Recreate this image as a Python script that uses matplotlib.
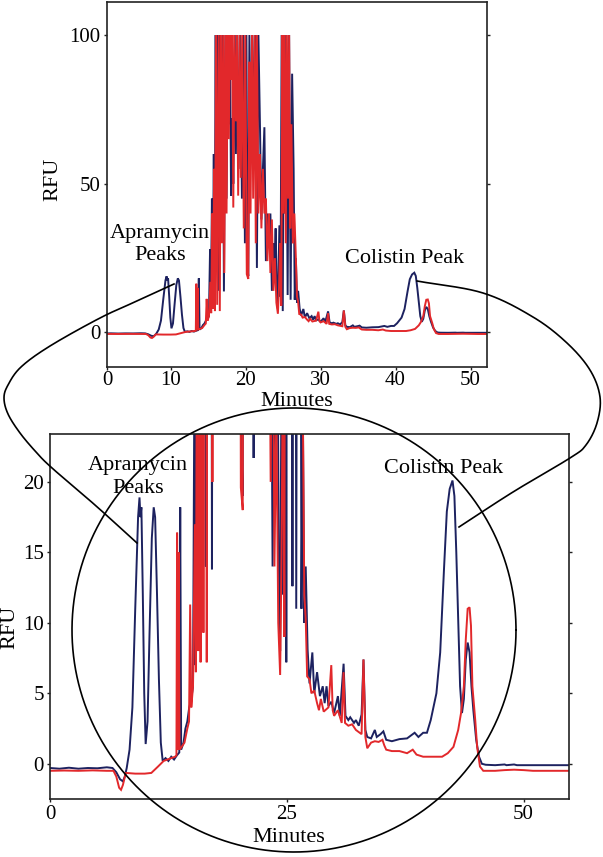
import numpy as np
import matplotlib
matplotlib.use("Agg")
import matplotlib.pyplot as plt
from matplotlib.lines import Line2D

plt.rcParams['font.family'] = ['Liberation Serif', 'DejaVu Serif']

# ---------------- data (time in minutes, RFU) ----------------
blue_t = [0.0, 1.0, 2.0, 3.0, 4.0, 5.0, 6.0, 6.6, 7.0, 7.4, 7.7, 7.9, 8.1, 8.4, 8.7, 9.0, 9.3, 9.45, 9.55,
          9.65, 9.8, 9.95, 10.1, 10.3, 10.5, 10.75, 10.95, 11.1, 11.3, 11.5, 11.7, 11.9, 12.2, 12.5, 12.8,
          13.1, 13.4, 13.65, 13.75, 13.85, 14.1, 14.3, 14.5, 14.7, 14.9, 15.1, 15.25, 15.35, 15.5, 15.6,
          15.75, 15.85, 16.0, 16.1, 16.3, 16.45, 16.6, 16.75, 16.95, 17.1, 17.3, 17.45, 17.6, 17.75, 17.9,
          18.05, 18.2, 18.35, 18.55, 18.7, 18.9, 19.05, 19.3, 19.5, 19.7, 19.9, 20.1, 20.25, 20.35, 20.5,
          20.7, 20.9, 21.1, 21.3, 21.5, 21.7, 21.9, 22.1, 22.3, 22.5, 22.7, 22.9, 23.1, 23.3, 23.5, 23.7,
          23.85, 24.0, 24.15, 24.3, 24.5, 24.65, 24.8, 24.95, 25.1, 25.25, 25.4, 25.6, 25.8, 26.0, 26.2,
          26.4, 26.55, 26.7, 26.85, 27.0, 27.2, 27.4, 27.7, 27.9, 28.2, 28.5, 28.8, 29.0, 29.2, 29.4, 29.7,
          30.0, 30.4, 30.6, 31.0, 31.2, 31.5, 31.7, 32.1, 32.3, 32.6, 32.9, 33.1, 33.3, 33.5, 33.9, 34.3,
          34.5, 34.9, 35.2, 35.5, 36.1, 36.9, 37.7, 38.5, 38.9, 39.4, 39.8, 40.2, 40.8, 41.2, 41.6, 41.9,
          42.2, 42.5, 42.7, 42.9, 43.1, 43.3, 43.5, 43.7, 43.9, 44.1, 44.3, 44.5, 44.7, 45.0, 45.3, 45.6,
          46.0, 47.0, 48.0, 48.2, 49.0, 49.3, 50.0, 52.0, 54.8]
blue_v = [-0.3, -0.35, -0.28, -0.35, -0.3, -0.32, -0.25, -0.3, -0.6, -1.1, -1.25, -0.9, -0.3, 1.0, 4.0, 11.0,
          17.5, 18.9, 17.5, 18.2, 12.0, 5.0, 1.4, 3.0, 9.0, 16.0, 18.2, 17.5, 12.0, 6.0, 1.5, 0.2, 0.4, 0.2,
          0.5, 0.3, 0.6, 0.8, 18.2, 1.0, 1.5, 2.5, 3.0, 4.0, 4.5, 5.5, 28, 7.0, 45, 8.0, 60, 10, 100, 30,
          100, 14, 100, 40, 100, 13.8, 100, 45, 100, 70, 100, 46, 72, 50, 100, 60, 100, 55, 100, 45, 100,
          30, 100, 21.5, 19, 100, 60, 100, 70, 100, 21.7, 100, 71, 38, 55, 69, 24, 40, 30, 40, 14, 30,
          21.5, 35, 15, 8, 36, 12, 100, 7.2, 100, 40, 100, 12.6, 100, 11, 87, 55, 11, 25, 10, 14, 8.1,
          5.7, 7.9, 5.0, 6.5, 4.8, 5.5, 4.3, 5.5, 4.1, 4.4, 3.6, 4.8, 3.4, 7.1, 3.4, 3.1, 3.3, 2.9, 3.1,
          2.7, 3.5, 7.4, 2.4, 1.9, 1.8, 2.4, 1.9, 2.1, 2.3, 1.7, 1.6, 1.75, 1.8, 2.2, 1.9, 2.2, 2.2, 3.1,
          5.0, 7.9, 13.8, 17.9, 19.5, 20.1, 19.0, 15.0, 10.3, 5.5, 3.6, 4.6, 7.4, 8.6, 7.9, 5.5, 3.8, 1.7,
          0.5, 0.0, -0.07, -0.1, -0.05, -0.1, -0.05, -0.1, -0.1, -0.1, -0.1]

red_t = [0.0, 1.5, 3.0, 4.5, 6.0, 6.7, 7.0, 7.3, 7.5, 7.7, 8.0, 9.0, 10.0, 10.7, 11.4, 12.0, 12.6, 13.2,
         13.35, 13.42, 13.5, 13.58, 13.68, 13.9, 14.2, 14.5, 14.68, 14.8, 14.92, 15.1, 15.3, 15.4, 15.55,
         15.65, 15.8, 15.9, 16.05, 16.2, 16.4, 16.55, 16.7, 16.85, 17.0, 17.15, 17.3, 17.45, 17.6, 17.75,
         17.9, 18.05, 18.2, 18.35, 18.5, 18.7, 18.85, 19.0, 19.2, 19.35, 19.55, 19.75, 19.95, 20.15, 20.35,
         20.5, 20.65, 20.85, 21.0, 21.2, 21.35, 21.5, 21.7, 21.9, 22.1, 22.3, 22.5, 22.7, 22.9, 23.1, 23.3,
         23.5, 23.7, 23.9, 24.1, 24.3, 24.45, 24.6, 24.75, 24.9, 25.05, 25.2, 25.35, 25.5, 25.65, 25.8,
         25.95, 26.1, 26.3, 26.5, 26.7, 26.85, 27.0, 27.15, 27.4, 27.6, 27.9, 28.2, 28.4, 28.6, 28.9, 29.4,
         29.7, 29.85, 30.0, 30.4, 30.8, 31.0, 31.15, 31.5, 31.9, 32.3, 32.7, 32.9, 33.1, 33.3, 33.5, 33.9,
         34.3, 34.7, 35.1, 35.3, 35.5, 36.1, 36.9, 37.7, 38.3, 38.7, 39.4, 41.4, 42.0, 42.6, 43.1, 43.4,
         43.7, 43.9, 44.1, 44.3, 44.45, 44.6, 44.9, 45.1, 45.4, 45.75, 47.0, 48.0, 49.0, 50.0, 51.0, 54.8]
red_v = [-0.5, -0.48, -0.5, -0.47, -0.5, -0.5, -0.9, -1.7, -1.85, -1.5, -0.65, -0.7, -0.7, -0.65, -0.2, 0.2,
         0.35, 0.5, 0.6, 16.4, 1.0, 15.0, 1.0, 1.2, 1.5, 2.5, 3.0, 11.3, 4.0, 5.5, 17, 6.5, 40, 8, 55, 7.2,
         100, 9.3, 100, 7.2, 100, 30, 100, 20, 100, 40, 100, 65, 100, 85, 100, 42, 100, 71, 100, 46, 100,
         52, 100, 35, 100, 19.6, 18.0, 91, 40, 100, 45, 100, 30, 100, 40, 60, 35, 55, 40, 45, 24, 40, 20,
         38, 14, 25, 10, 6.3, 15, 30, 9, 100, 40, 100, 30, 100, 45, 100, 35, 70, 30, 40, 25, 12, 10.3, 6.2,
         6.0, 5.0, 5.2, 4.3, 3.8, 4.6, 3.7, 4.0, 7.0, 3.8, 3.4, 3.8, 2.9, 6.5, 2.9, 2.7, 2.8, 2.4, 2.2, 2.1,
         7.4, 1.9, 1.1, 1.5, 1.6, 1.55, 1.7, 1.3, 1.0, 0.9, 0.9, 0.75, 1.0, 0.65, 0.5, 0.5, 0.75, 1.2, 2.4,
         3.6, 5.5, 8.8, 11.0, 11.1, 9.8, 5.5, 3.1, 1.2, -0.2, -0.5, -0.5, -0.45, -0.42, -0.45, -0.5, -0.5]

top_xticks = [1.5, 10, 20, 30, 40, 50]
top_xlabels = ['0', '10', '20', '30', '40', '50']
top_yticks = [0, 50, 100]
bot_xticks = [0, 25, 50]
bot_yticks = [0, 5, 10, 15, 20]

BLUE = '#1d2260'
RED = '#e2282b'
FS = 15      # tick labels
FL = 16      # labels / annotations

W, H = 603, 857
fig = plt.figure(figsize=(W / 100, H / 100), dpi=100)


def fx(x):
    return x / W


def fy(y):
    return 1 - y / H


ax1 = fig.add_axes([fx(107), fy(367), 380 / W, 365 / H])
ax2 = fig.add_axes([fx(50), fy(799), 519 / W, 365 / H])

for ax in (ax1, ax2):
    ax.plot(blue_t, blue_v, color=BLUE, lw=1.4, solid_joinstyle='miter')
    ax.plot(red_t, red_v, color=RED, lw=1.4, solid_joinstyle='miter')
    for s in ax.spines.values():
        s.set_linewidth(1.2)
        s.set_color('#222222')
    ax.tick_params(direction='out', length=2.5, width=1, labelsize=FS, pad=2,
                   right=True, top=False, colors='#222222')
    ax.tick_params(labelcolor='black')

ax1.set_xlim(1.5, 52.2)
ax1.set_ylim(-11.6, 111.1)
ax1.set_xticks(top_xticks, top_xlabels)
ax1.set_yticks(top_yticks)
ax1.tick_params(axis='x', pad=0.5)

ax2.set_xlim(0, 54.8)
ax2.set_ylim(-2.5, 23.4)
ax2.set_xticks(bot_xticks)
ax2.set_yticks(bot_yticks)

# axis labels
fig.text(fx(53), fy(179), 'RFU', rotation=90, ha='center', va='center', fontsize=FL)
fig.text(fx(10), fy(627), 'RFU', rotation=90, ha='center', va='center', fontsize=FL)
fig.text(fx(297), fy(406), 'Minutes', ha='center', va='baseline', fontsize=FL)
fig.text(fx(289), fy(842), 'Minutes', ha='center', va='baseline', fontsize=FL)

# peak labels
fig.text(fx(160), fy(238), 'Apramycin', ha='center', va='baseline', fontsize=FL)
fig.text(fx(160), fy(260), 'Peaks', ha='center', va='baseline', fontsize=FL)
fig.text(fx(405), fy(263), 'Colistin Peak', ha='center', va='baseline', fontsize=FL)
fig.text(fx(138), fy(470), 'Apramycin', ha='center', va='baseline', fontsize=FL)
fig.text(fx(138), fy(493), 'Peaks', ha='center', va='baseline', fontsize=FL)
fig.text(fx(444), fy(473), 'Colistin Peak', ha='center', va='baseline', fontsize=FL)


def smooth(pts, n=30):
    P = np.asarray(pts, float)
    P = np.vstack([2 * P[0] - P[1], P, 2 * P[-1] - P[-2]])
    out = []
    for i in range(1, len(P) - 2):
        p0, p1, p2, p3 = P[i - 1], P[i], P[i + 1], P[i + 2]
        t = np.linspace(0, 1, n, endpoint=False)[:, None]
        seg = 0.5 * ((2 * p1) + (-p0 + p2) * t + (2 * p0 - 5 * p1 + 4 * p2 - p3) * t ** 2
                     + (-p0 + 3 * p1 - 3 * p2 + p3) * t ** 3)
        out.append(seg)
    out.append(P[-2][None, :])
    return np.vstack(out)


def add_path(pts):
    c = smooth(pts)
    fig.add_artist(Line2D(fx(c[:, 0]), fy(c[:, 1]), transform=fig.transFigure,
                          color='black', lw=1.2, zorder=5))


# callout connecting the apramycin peaks
add_path([(174, 284), (137, 301), (100, 318), (50, 346), (21, 367), (8, 385), (4, 398),
          (8, 414), (20, 433), (36, 452), (52, 468), (95, 505), (137, 543)])
# callout connecting the colistin peak
add_path([(417, 281), (483, 293), (533, 317), (567, 343), (590, 370), (600, 397),
          (597, 423), (586, 445), (570, 458), (513, 492), (459, 527)])

# magnifier circle on the lower panel
th = np.linspace(0, 2 * np.pi, 400)
cx, cy, r = 294, 630, 222
fig.add_artist(Line2D(fx(cx + r * np.cos(th)), fy(cy + r * np.sin(th)),
                      transform=fig.transFigure, color='black', lw=1.2, zorder=5))

fig.savefig('out.png', dpi=100)
